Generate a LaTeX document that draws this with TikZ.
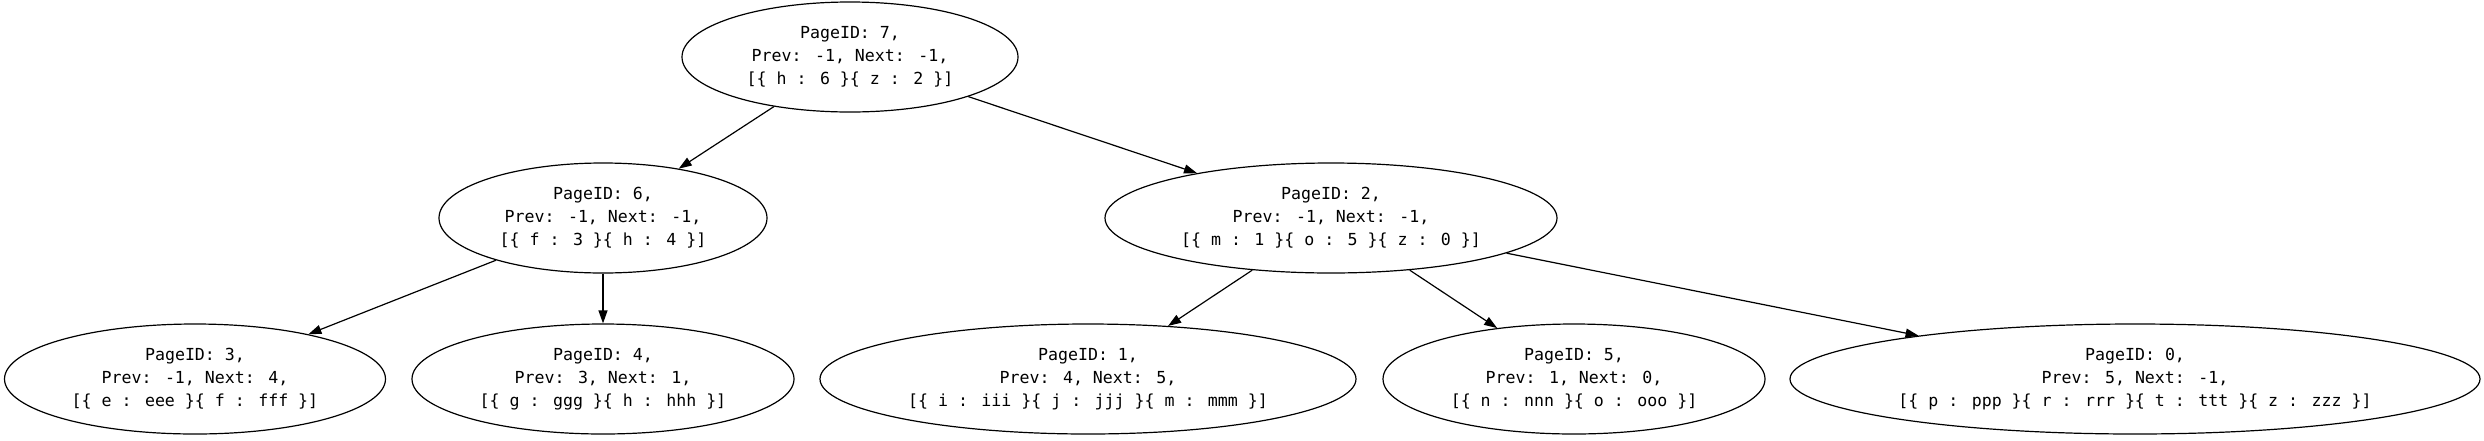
\documentclass[tikz,border=0pt]{standalone}
\usepackage{fontspec}
\newfontfamily\pgmono{DejaVu Sans Mono}
\usetikzlibrary{shapes.geometric,arrows.meta}
\begin{document}
\begin{tikzpicture}[x=1pt,y=-1pt,
  page/.style={ellipse,draw,line width=1.2pt,inner sep=0pt,minimum height=110pt,
    align=center,font=\pgmono\fontsize{16.6}{23}\selectfont},
  link/.style={-{Triangle[length=13pt,width=9pt]},line width=1.2pt}]
\useasboundingbox (0,0) rectangle (2484,440);
\node[page,minimum width=336pt] (p7) at (850,57) {PageID: 7,\\Prev: -1, Next: -1,\\{[}\{ h : 6 \}\{ z : 2 \}{]}};
\node[page,minimum width=328pt] (p6) at (603,218) {PageID: 6,\\Prev: -1, Next: -1,\\{[}\{ f : 3 \}\{ h : 4 \}{]}};
\node[page,minimum width=452pt] (p2) at (1331,218) {PageID: 2,\\Prev: -1, Next: -1,\\{[}\{ m : 1 \}\{ o : 5 \}\{ z : 0 \}{]}};
\node[page,minimum width=381pt] (p3) at (195,379) {PageID: 3,\\Prev: -1, Next: 4,\\{[}\{ e : eee \}\{ f : fff \}{]}};
\node[page,minimum width=382pt] (p4) at (603,379) {PageID: 4,\\Prev: 3, Next: 1,\\{[}\{ g : ggg \}\{ h : hhh \}{]}};
\node[page,minimum width=536pt] (p1) at (1088,379) {PageID: 1,\\Prev: 4, Next: 5,\\{[}\{ i : iii \}\{ j : jjj \}\{ m : mmm \}{]}};
\node[page,minimum width=382pt] (p5) at (1574,379) {PageID: 5,\\Prev: 1, Next: 0,\\{[}\{ n : nnn \}\{ o : ooo \}{]}};
\node[page,minimum width=690pt] (p0) at (2135,379) {PageID: 0,\\Prev: 5, Next: -1,\\{[}\{ p : ppp \}\{ r : rrr \}\{ t : ttt \}\{ z : zzz \}{]}};
\draw[link] (p7) -- (p6);
\draw[link] (p7) -- (p2);
\draw[link] (p6) -- (p3);
\draw[link] (p6) -- (p4);
\draw[link] (p2) -- (p1);
\draw[link] (p2) -- (p5);
\draw[link] (p2) -- (p0);
\end{tikzpicture}
\end{document}
